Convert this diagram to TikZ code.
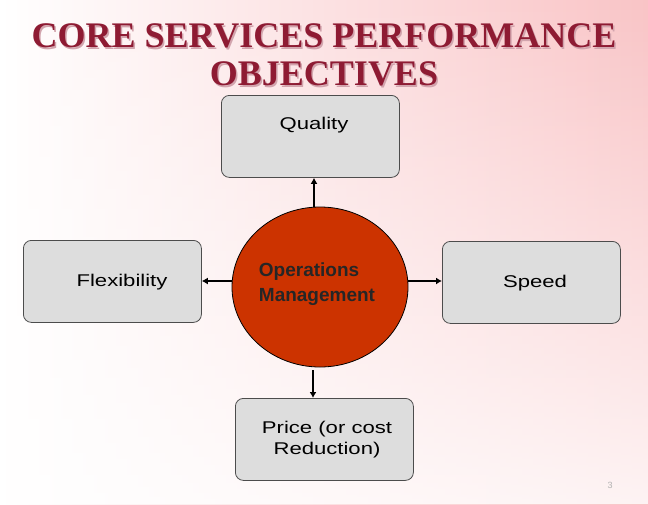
\documentclass[tikz,border=0pt]{standalone}
\usepackage{fontspec}
\setmainfont{Liberation Sans}
\newfontfamily\titlefont{Liberation Serif}
\usetikzlibrary{shapes.geometric,arrows.meta,fadings}
\definecolor{ttl}{HTML}{8E1B33}
\definecolor{pinkbg}{HTML}{F9C4C6}
\definecolor{boxfill}{HTML}{DDDDDD}
\definecolor{opfill}{HTML}{CC3300}
\tikzset{x=1pt,y=-1pt,
 objbox/.style={draw=black!70,line width=0.8pt,fill=boxfill,rounded corners=8pt,minimum width=178pt,minimum height=82pt},
 lbl/.style={font=\fontsize{17}{20}\selectfont,align=center,xscale=1.3},
 conn/.style={line width=2pt,-{Latex[length=6pt,width=7pt]}}}
\begin{document}
\begin{tikzpicture}
\useasboundingbox (0,0) rectangle (648,504);
\shade[left color=white,right color=pinkbg] (0,0) rectangle (648,504);
\fill[white,path fading=north,fill opacity=0.8] (0,0) rectangle (648,504);
\node[ttl!40!white,font=\titlefont\bfseries\fontsize{36}{38}\selectfont,align=center] at (325.5,56.5) {CORE SERVICES PERFORMANCE\\OBJECTIVES};
\node[ttl,font=\titlefont\bfseries\fontsize{36}{38}\selectfont,align=center] (title) at (324,55) {CORE SERVICES PERFORMANCE\\OBJECTIVES};
\node[objbox,anchor=north west] (q) at (221,95) {};
\node[lbl] at (314,125) {Quality};
\node[objbox,anchor=north west] (f) at (23,240) {};
\node[lbl] at (122,282) {Flexibility};
\node[objbox,anchor=north west] (s) at (442,241) {};
\node[lbl] at (535,283) {Speed};
\node[objbox,anchor=north west] (p) at (235,398) {};
\node[lbl,font=\fontsize{17}{21}\selectfont] at (327,440) {Price (or cost\\Reduction)};
\node[draw=black,line width=0.8pt,fill=opfill,ellipse,minimum width=176pt,minimum height=160pt] (op) at (320,287) {};
\node[align=left,font=\bfseries\fontsize{19}{25}\selectfont,text=black!85] at (317,284) {Operations\\Management};
\draw[conn] (op.north) ++(-6,0) -- (q.south -| 314,0);
\draw[conn] (232,281) -- (f.east |- 0,281);
\draw[conn] (408,281) -- (s.west |- 0,281);
\draw[conn] (313,370) -- (p.north -| 313,0);
\node[black!30,font=\fontsize{9}{9}\selectfont] at (610,485) {3};
\end{tikzpicture}
\end{document}
